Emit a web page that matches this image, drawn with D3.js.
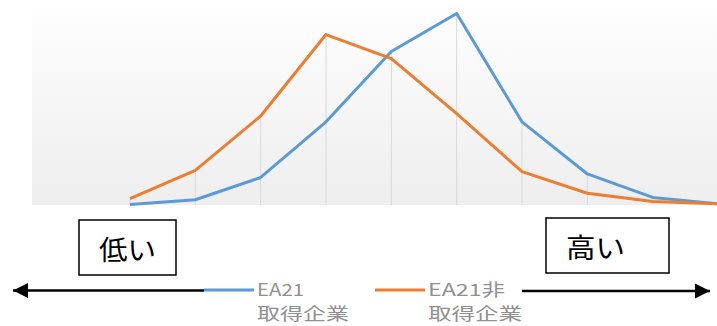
<!DOCTYPE html>
<html>
<head>
<meta charset="utf-8">
<script src="https://cdn.jsdelivr.net/npm/d3@7"></script>
<style>
  html, body { margin: 0; padding: 0; background: #ffffff; }
  svg { display: block; }
</style>
</head>
<body>
<svg id="chart" width="717" height="326"></svg>
<script>
// ---- data (percent share per category) ----
const categories = ["1", "2", "3", "4", "5", "6", "7", "8", "9", "10"];
const seriesNames = ["EA21\n取得企業", "EA21非\n取得企業"];
const acquired    = [0.1, 0.9, 4.7, 14.2, 26.2, 32.7, 14.2, 5.3, 1.3, 0.2];
const notAcquired = [1.1, 5.9, 15.2, 29.1, 25.0, 15.6, 5.7, 2.0, 0.6, 0.2];
const lowLabel = "低い";
const highLabel = "高い";

const colors = ["#5B9BD5", "#ED7D31"];
const series = [acquired, notAcquired];

const svg = d3.select("#chart");
const font = "'Noto Sans CJK JP', 'Noto Sans', sans-serif";

// plot background with subtle vertical gradient
const defs = svg.append("defs");
const grad = defs.append("linearGradient").attr("id", "bg").attr("x1", 0).attr("y1", 0).attr("x2", 0).attr("y2", 1);
grad.append("stop").attr("offset", "0%").attr("stop-color", "#fefefe");
grad.append("stop").attr("offset", "100%").attr("stop-color", "#eeeeee");

svg.append("rect").attr("x", 32).attr("y", 5).attr("width", 685).attr("height", 200).attr("fill", "url(#bg)");

const x = d3.scalePoint().domain(categories).range([130, 718]);
const y = d3.scaleLinear().domain([0, 35]).range([205, 0]);

// drop lines
svg.append("g").selectAll("line").data(categories).join("line")
  .attr("x1", d => x(d)).attr("x2", d => x(d))
  .attr("y1", (d, i) => y(Math.max(acquired[i], notAcquired[i])))
  .attr("y2", y(0))
  .attr("stroke", "#d9d9d9").attr("stroke-width", 1);

const line = d3.line().x((d, i) => x(categories[i])).y(d => y(d));

[0, 1].forEach(k => {
  svg.append("path").datum(series[k])
    .attr("d", line)
    .attr("fill", "none")
    .attr("stroke", colors[k])
    .attr("stroke-width", 3)
    .attr("stroke-linejoin", "round")
    .attr("stroke-linecap", "butt");
});

// label boxes
function box(x0, y0, w, h, label, tx, tw) {
  svg.append("rect").attr("x", x0).attr("y", y0).attr("width", w).attr("height", h)
    .attr("fill", "#fff").attr("stroke", "#000").attr("stroke-width", 1.5);
  svg.append("text").attr("x", tx).attr("y", y0 + h / 2 + 1)
    .attr("dominant-baseline", "central")
    .attr("font-family", font).attr("font-size", 27).attr("fill", "#000")
    .attr("textLength", tw).attr("lengthAdjust", "spacingAndGlyphs")
    .text(label);
}
box(79, 220, 97, 55, lowLabel, 99, 57);
box(546, 218, 123, 55, highLabel, 566, 59);

// arrows
defs.append("marker").attr("id", "ah").attr("viewBox", "0 0 10 10")
  .attr("refX", 10).attr("refY", 5).attr("markerWidth", 15).attr("markerHeight", 16)
  .attr("markerUnits", "userSpaceOnUse").attr("orient", "auto")
  .append("path").attr("d", "M0,0L10,5L0,10Z").attr("fill", "#000");

svg.append("line").attr("x1", 204).attr("y1", 290.5).attr("x2", 13).attr("y2", 290.5)
  .attr("stroke", "#000").attr("stroke-width", 2.5).attr("marker-end", "url(#ah)");
svg.append("line").attr("x1", 522).attr("y1", 291).attr("x2", 710).attr("y2", 291)
  .attr("stroke", "#000").attr("stroke-width", 2.5).attr("marker-end", "url(#ah)");

// legend
const legendX = [204, 375];
const legendWidths = [[47, 92], [77, 94]];
seriesNames.forEach((name, k) => {
  const g = svg.append("g");
  g.append("line").attr("x1", legendX[k]).attr("x2", legendX[k] + 50)
    .attr("y1", 290).attr("y2", 290).attr("stroke", colors[k]).attr("stroke-width", 3);
  const t = g.append("text").attr("x", legendX[k] + 53).attr("y", 296)
    .attr("font-family", font).attr("font-size", 17).attr("fill", "#909090");
  name.split("\n").forEach((ln, j) => {
    t.append("tspan").attr("x", legendX[k] + 53).attr("dy", j === 0 ? 0 : 23.5)
      .attr("textLength", legendWidths[k][j]).attr("lengthAdjust", "spacingAndGlyphs")
      .text(ln);
  });
});
</script>
</body>
</html>
